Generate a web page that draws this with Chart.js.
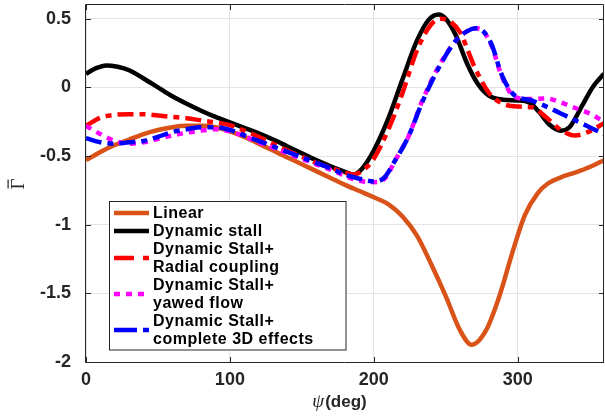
<!DOCTYPE html>
<html>
<head>
<meta charset="utf-8">
<script src="https://cdn.jsdelivr.net/npm/chart.js@4.4.0/dist/chart.umd.min.js"></script>
<style>
html,body{margin:0;padding:0;background:#fff;}
#wrap{width:605px;height:418px;}
</style>
</head>
<body>
<div id="wrap"><canvas id="c" width="605" height="418"></canvas></div>
<script>
// ---- data ----
const xTicks = [0, 100, 200, 300];
const yTicks = [-2, -1.5, -1, -0.5, 0, 0.5];
const xTitleSymbol = 'ψ';
const xTitleText = '(deg)';
const yTitle = 'Γ\u0304';
const seriesNames = ['Linear', 'Dynamic stall', 'Dynamic Stall+\nRadial coupling', 'Dynamic Stall+\nyawed flow', 'Dynamic Stall+\ncomplete 3D effects'];

const psiLinear = [0,10,20,30,40,50,60,70,80,90,100,110,120,130,140,150,160,170,180,190,200,210,220,230,240,250,260,268,278,287,297,305,314,321,330,340,350,360];
const gLinear   = [-0.53,-0.47,-0.42,-0.38,-0.34,-0.31,-0.29,-0.28,-0.28,-0.29,-0.32,-0.36,-0.41,-0.46,-0.51,-0.56,-0.61,-0.66,-0.71,-0.755,-0.80,-0.85,-0.94,-1.08,-1.29,-1.52,-1.77,-1.875,-1.77,-1.53,-1.18,-0.93,-0.77,-0.70,-0.655,-0.62,-0.58,-0.53];

const psiStall = [0,7,14,22,30,40,50,60,70,80,90,100,110,120,130,140,150,160,170,180,186,192,200,210,220,230,238,245,250,257,265,272,280,290,300,308,315,322,330,336,345,352,360];
const gStall   = [0.10,0.14,0.16,0.15,0.125,0.065,0.0,-0.065,-0.12,-0.17,-0.215,-0.255,-0.295,-0.335,-0.38,-0.43,-0.48,-0.53,-0.575,-0.615,-0.635,-0.59,-0.46,-0.23,0.06,0.34,0.49,0.53,0.50,0.38,0.17,0.03,-0.06,-0.09,-0.095,-0.11,-0.18,-0.27,-0.315,-0.29,-0.13,0.0,0.10];

const psiRadial = [0,10,20,30,40,50,60,70,80,90,100,110,120,130,140,150,160,170,180,186,193,200,210,220,230,240,247,253,260,270,280,290,300,310,320,330,340,350,360];
const gRadial   = [-0.28,-0.22,-0.20,-0.195,-0.195,-0.205,-0.215,-0.225,-0.24,-0.255,-0.275,-0.315,-0.36,-0.41,-0.46,-0.505,-0.55,-0.585,-0.62,-0.635,-0.60,-0.52,-0.31,-0.04,0.27,0.46,0.50,0.48,0.40,0.15,-0.04,-0.12,-0.14,-0.145,-0.22,-0.31,-0.35,-0.32,-0.26];

const psiYawed = [0,10,20,30,40,50,60,70,80,90,100,110,120,130,140,150,160,170,180,190,200,208,215,224,234,245,257,265,271,276,282,289,298,308,320,330,340,350,360];
const gYawed   = [-0.28,-0.34,-0.39,-0.41,-0.40,-0.375,-0.35,-0.33,-0.315,-0.305,-0.32,-0.355,-0.40,-0.44,-0.48,-0.52,-0.56,-0.60,-0.645,-0.68,-0.69,-0.66,-0.53,-0.36,-0.09,0.15,0.34,0.41,0.43,0.41,0.30,0.08,-0.07,-0.085,-0.08,-0.11,-0.15,-0.19,-0.25];

const psi3D = [0,10,20,30,40,50,60,70,80,90,100,110,120,130,140,150,160,170,180,190,200,207,215,224,234,245,257,265,271,276,282,289,298,308,320,330,340,350,360];
const g3D   = [-0.37,-0.40,-0.41,-0.40,-0.39,-0.36,-0.325,-0.305,-0.29,-0.29,-0.31,-0.35,-0.39,-0.43,-0.47,-0.51,-0.55,-0.59,-0.635,-0.665,-0.685,-0.66,-0.53,-0.36,-0.10,0.14,0.34,0.41,0.43,0.41,0.31,0.09,-0.06,-0.09,-0.14,-0.19,-0.24,-0.29,-0.34];

// ---- chart ----
const pts = (xs, ys) => xs.map((x, i) => ({x: x, y: ys[i]}));
const axisColor = '#262626';
const tickFont = {family: "'Liberation Sans', Arial, sans-serif", size: 18, weight: 'bold'};

const framePlugin = {
  id: 'frame',
  afterDatasetsDraw(chart) {
    const {ctx, chartArea: a, scales} = chart;
    ctx.save();
    ctx.strokeStyle = axisColor;
    ctx.lineWidth = 1;
    ctx.beginPath();
    ctx.rect(a.left - 0.5, a.top - 0.5, a.right - a.left, a.bottom - a.top + 1);
    ctx.stroke();
    ctx.beginPath();
    const L = 5;
    xTicks.forEach(v => {
      const x = Math.round(scales.x.getPixelForValue(v)) + 0.5;
      ctx.moveTo(x, a.bottom); ctx.lineTo(x, a.bottom - L);
      ctx.moveTo(x, a.top); ctx.lineTo(x, a.top + L);
    });
    yTicks.forEach(v => {
      const y = Math.round(scales.y.getPixelForValue(v)) + 0.5;
      ctx.moveTo(a.left, y); ctx.lineTo(a.left + L, y);
      ctx.moveTo(a.right, y); ctx.lineTo(a.right - L, y);
    });
    ctx.stroke();
    ctx.restore();
  }
};

const titlePlugin = {
  id: 'titles',
  afterDraw(chart) {
    const ctx = chart.ctx;
    ctx.save();
    ctx.fillStyle = axisColor;
    // x title: italic psi + bold (deg)
    const f1 = "italic 19px 'Liberation Serif', 'DejaVu Serif', serif";
    const f2 = "bold 17px 'Liberation Sans', Arial, sans-serif";
    ctx.font = f1; const w1 = ctx.measureText(xTitleSymbol).width;
    ctx.font = f2; const w2 = ctx.measureText(xTitleText).width;
    const cx = 339, base = 407;
    let x0 = cx - (w1 + w2) / 2;
    ctx.textBaseline = 'alphabetic';
    ctx.textAlign = 'left';
    ctx.font = f1; ctx.fillText(xTitleSymbol, x0, base);
    ctx.font = f2; ctx.fillText(xTitleText, x0 + w1 + 1, base);
    // y title rotated: base letter + overbar (combining macron drawn as a bar)
    const baseLetter = yTitle.replace('\u0304', '');
    ctx.translate(18, 184);
    ctx.rotate(-Math.PI / 2);
    ctx.font = "19px 'Liberation Serif', 'DejaVu Serif', serif";
    ctx.textAlign = 'center';
    ctx.textBaseline = 'alphabetic';
    ctx.fillText(baseLetter, 0, 6);
    const wl = ctx.measureText(baseLetter).width;
    ctx.fillRect(-wl / 2 + 1, -10.5, wl - 2, 1.2);
    ctx.restore();
  }
};

const legendPlugin = {
  id: 'customLegend',
  afterDraw(chart) {
    const ctx = chart.ctx;
    const bx = 109.5, by = 201.5, bw = 236.5, bh = 148.5;
    ctx.save();
    ctx.fillStyle = '#ffffff';
    ctx.fillRect(bx, by, bw, bh);
    ctx.strokeStyle = axisColor;
    ctx.lineWidth = 1;
    ctx.strokeRect(bx, by, bw, bh);
    const lineH = 18;
    let top = 204;
    ctx.font = "bold 16px 'Liberation Sans', Arial, sans-serif";
    try { ctx.letterSpacing = '0.5px'; } catch (e) {}
    ctx.textBaseline = 'middle';
    ctx.textAlign = 'left';
    chart.data.datasets.forEach(ds => {
      const lines = ds.label.split('\n');
      const h = lines.length * lineH;
      const cy = top + h / 2;
      ctx.save();
      ctx.strokeStyle = ds.borderColor;
      ctx.lineWidth = 4.5;
      ctx.lineCap = 'butt';
      ctx.setLineDash(ds.legendDash || []);
      ctx.beginPath();
      ctx.moveTo(114, cy); ctx.lineTo(149, cy);
      ctx.stroke();
      ctx.restore();
      ctx.fillStyle = '#000000';
      lines.forEach((t, i) => ctx.fillText(t, 153, top + lineH / 2 + i * lineH + 1));
      top += h;
    });
    ctx.restore();
  }
};

const noPad = s => { s.paddingTop = 0; s.paddingBottom = 0; s.paddingLeft = 0; s.paddingRight = 0; };
const common = {pointRadius: 0, borderWidth: 4.5, fill: false, cubicInterpolationMode: 'monotone', borderCapStyle: 'butt'};

new Chart(document.getElementById('c'), {
  type: 'line',
  data: {
    datasets: [
      Object.assign({label: seriesNames[0], data: pts(psiLinear, gLinear), borderColor: '#D95319', order: 5}, common),
      Object.assign({label: seriesNames[1], data: pts(psiStall, gStall), borderColor: '#000000', order: 4}, common),
      Object.assign({label: seriesNames[2], data: pts(psiRadial, gRadial), borderColor: '#FF0000', order: 3, borderDash: [16, 6, 6, 6], legendDash: [20, 9, 6, 9]}, common),
      Object.assign({label: seriesNames[3], data: pts(psiYawed, gYawed), borderColor: '#FF00FF', order: 2, borderDash: [6, 6], legendDash: [6, 6]}, common),
      Object.assign({label: seriesNames[4], data: pts(psi3D, g3D), borderColor: '#0000FF', order: 1, borderDash: [16, 6, 6, 6], legendDash: [23, 6, 6, 6]}, common)
    ]
  },
  options: {
    responsive: false,
    animation: false,
    layout: {padding: {top: 5, right: 1, left: 0, bottom: 0}},
    plugins: {legend: {display: false}, tooltip: {enabled: false}, title: {display: false}},
    scales: {
      x: {
        type: 'linear', min: 0, max: 360,
        afterBuildTicks: s => { s.ticks = xTicks.map(v => ({value: v})); },
        afterFit: s => { s.height = 56; noPad(s); },
        grid: {color: '#e4e4e4', drawTicks: false, lineWidth: 1},
        border: {display: false},
        ticks: {padding: 7, color: axisColor, font: tickFont, maxRotation: 0, autoSkip: false, callback: v => String(v)}
      },
      y: {
        type: 'linear', min: -2, max: 0.6,
        afterBuildTicks: s => { s.ticks = yTicks.map(v => ({value: v})); },
        afterFit: s => { s.width = 86; noPad(s); },
        grid: {color: '#e4e4e4', drawTicks: false, lineWidth: 1},
        border: {display: false},
        ticks: {padding: 15, color: axisColor, font: tickFont, autoSkip: false, callback: v => String(v)}
      }
    }
  },
  plugins: [framePlugin, titlePlugin, legendPlugin]
});
</script>
</body>
</html>
